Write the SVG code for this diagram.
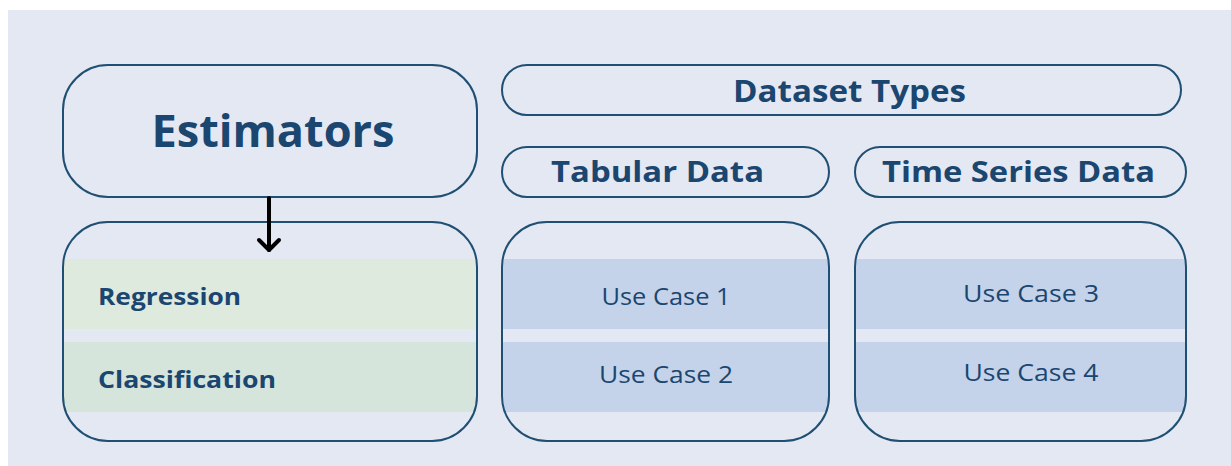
<svg xmlns="http://www.w3.org/2000/svg" width="1231" height="466" viewBox="0 0 1231 466">
  <style>
    .box { fill: none; stroke: #1F4F72; stroke-width: 2; }
    .t { font-family: "Open Sans", "Liberation Sans", sans-serif; fill: #1A4670; }
    .b { font-weight: 700; }
    .r { font-weight: 500; }
    .green1 { fill: #DFEADF; }
    .green2 { fill: #D5E5DC; }
    .blue { fill: #C4D3E9; }
  </style>
  <rect x="0" y="0" width="1231" height="466" fill="#FFFFFF"/>
  <rect x="8" y="10" width="1223" height="456" fill="#E4E8F3"/>

  <g id="estimators">
    <rect class="box" x="63" y="65" width="414" height="132" rx="45" ry="45"/>
    <text class="t b" x="273" y="147" text-anchor="middle" font-size="45" textLength="243" lengthAdjust="spacingAndGlyphs">Estimators</text>
  </g>

  <g id="estimator-types">
    <rect class="green1" x="64" y="259" width="412" height="70"/>
    <rect class="green2" x="64" y="342" width="412" height="70"/>
    <rect class="box" x="63" y="222" width="414" height="219" rx="45" ry="45"/>
    <text class="t b" x="98" y="305" font-size="24" textLength="143" lengthAdjust="spacingAndGlyphs">Regression</text>
    <text class="t b" x="98" y="388" font-size="24" textLength="178" lengthAdjust="spacingAndGlyphs">Classification</text>
  </g>

  <g id="dataset-types">
    <rect class="box" x="502" y="65" width="679" height="50" rx="25" ry="25"/>
    <text class="t b" x="849.5" y="102" text-anchor="middle" font-size="30" textLength="233" lengthAdjust="spacingAndGlyphs">Dataset Types</text>
  </g>

  <g id="tabular-data">
    <rect class="box" x="502" y="147" width="327" height="50" rx="25" ry="25"/>
    <text class="t b" x="657.5" y="182" text-anchor="middle" font-size="29" textLength="213" lengthAdjust="spacingAndGlyphs">Tabular Data</text>
  </g>

  <g id="time-series-data">
    <rect class="box" x="855" y="147" width="331" height="50" rx="25" ry="25"/>
    <text class="t b" x="1018.5" y="182" text-anchor="middle" font-size="29" textLength="273" lengthAdjust="spacingAndGlyphs">Time Series Data</text>
  </g>

  <g id="tabular-use-cases">
    <rect class="blue" x="503" y="259" width="325" height="70"/>
    <rect class="blue" x="503" y="342" width="325" height="70"/>
    <rect class="box" x="502" y="222" width="327" height="219" rx="45" ry="45"/>
    <text class="t r" x="666" y="305" text-anchor="middle" font-size="24" textLength="129" lengthAdjust="spacingAndGlyphs">Use Case 1</text>
    <text class="t r" x="666" y="383" text-anchor="middle" font-size="24" textLength="134" lengthAdjust="spacingAndGlyphs">Use Case 2</text>
  </g>

  <g id="time-series-use-cases">
    <rect class="blue" x="856" y="259" width="329" height="70"/>
    <rect class="blue" x="856" y="342" width="329" height="70"/>
    <rect class="box" x="855" y="222" width="331" height="219" rx="45" ry="45"/>
    <text class="t r" x="1031" y="302" text-anchor="middle" font-size="24" textLength="136" lengthAdjust="spacingAndGlyphs">Use Case 3</text>
    <text class="t r" x="1031" y="381" text-anchor="middle" font-size="24" textLength="135" lengthAdjust="spacingAndGlyphs">Use Case 4</text>
  </g>

  <g id="connectors" fill="none" stroke="#000000" stroke-width="4" stroke-linecap="round" stroke-linejoin="round">
    <line x1="269" y1="198" x2="269" y2="250"/>
    <polyline points="259,240 269,250 279,240"/>
  </g>
</svg>
